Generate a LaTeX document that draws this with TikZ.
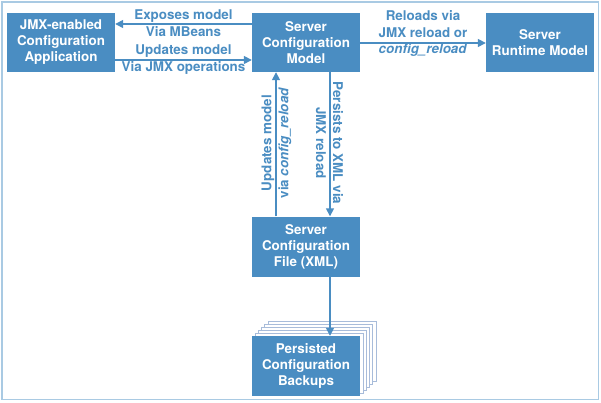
\documentclass[tikz,border=0pt]{standalone}
\usepackage{fontspec}
\setmainfont{TeX Gyre Heros}
\usetikzlibrary{arrows.meta}
\definecolor{boxblue}{HTML}{4A8DC2}
\definecolor{framecol}{HTML}{A9CAE3}
\definecolor{pagecol}{HTML}{A8BCDA}
\tikzset{
  box/.style={fill=boxblue, draw=none, minimum width=108pt, minimum height=59pt, inner sep=0pt,
    text=white, font=\fontsize{13.4}{16}\selectfont\bfseries, align=center},
  page/.style={fill=white, draw=pagecol, line width=0.7pt, minimum width=108pt, minimum height=60pt, inner sep=0pt},
  arr/.style={draw=boxblue, line width=1.5pt, -{Triangle[length=8pt,width=8pt]}},
  lbl/.style={text=boxblue, font=\fontsize{13.4}{17}\selectfont\bfseries, align=center, inner sep=0pt}
}
\begin{document}
\begin{tikzpicture}[x=1pt,y=-1pt]
\useasboundingbox (0,0) rectangle (601,403);
\fill[white] (0,0) rectangle (601,403);
\draw[framecol, line width=1.8pt] (2,2) rectangle (598.5,399.5);

\node[box] (jmx) at (61,42.5) {JMX-enabled\\Configuration\\Application};
\node[box] (scm) at (306,42.5) {Server\\Configuration\\Model};
\node[box] (srm) at (540,42.5) {Server\\Runtime Model};
\node[box, minimum height=60pt] (scf) at (306,246.5) {Server\\Configuration\\File (XML)};

\foreach \k in {5,4,3,2,1} {
  \node[page] (pg\k) at (306+3.2*\k,366-3*\k) {};
}
\node[box, minimum height=60pt] (pcb) at (306,366) {Persisted\\Configuration\\Backups};

\draw[arr] (scm.west |- 0,24) -- (jmx.east |- 0,24);
\draw[arr] (jmx.east |- 0,60) -- (scm.west |- 0,60);
\draw[arr] (scm.east |- 0,43) -- (srm.west |- 0,43);
\draw[arr] (scf.north -| 276,0) -- (scm.south -| 276,0);
\draw[arr] (scm.south -| 330,0) -- (scf.north -| 330,0);
\draw[arr] (scf.south -| 330,0) -- (pcb.north -| 330,0);

\node[lbl] (l1) at (183.5,23.5) {Exposes model\\Via MBeans};
\node[lbl] (l2) at (183.5,60) {Updates model\\Via JMX operations};
\node[lbl, font=\fontsize{13.4}{16.5}\selectfont\bfseries] (l3) at (423,33.5) {Reloads via\\JMX reload or\\\textit{config\_reload}};
\node[lbl, rotate=90] (l4) at (276.5,143) {Updates model\\via \textit{config\_reload}};
\node[lbl, rotate=-90] (l5) at (329.5,143) {Persists to XML via\\JMX reload};
\end{tikzpicture}
\end{document}
